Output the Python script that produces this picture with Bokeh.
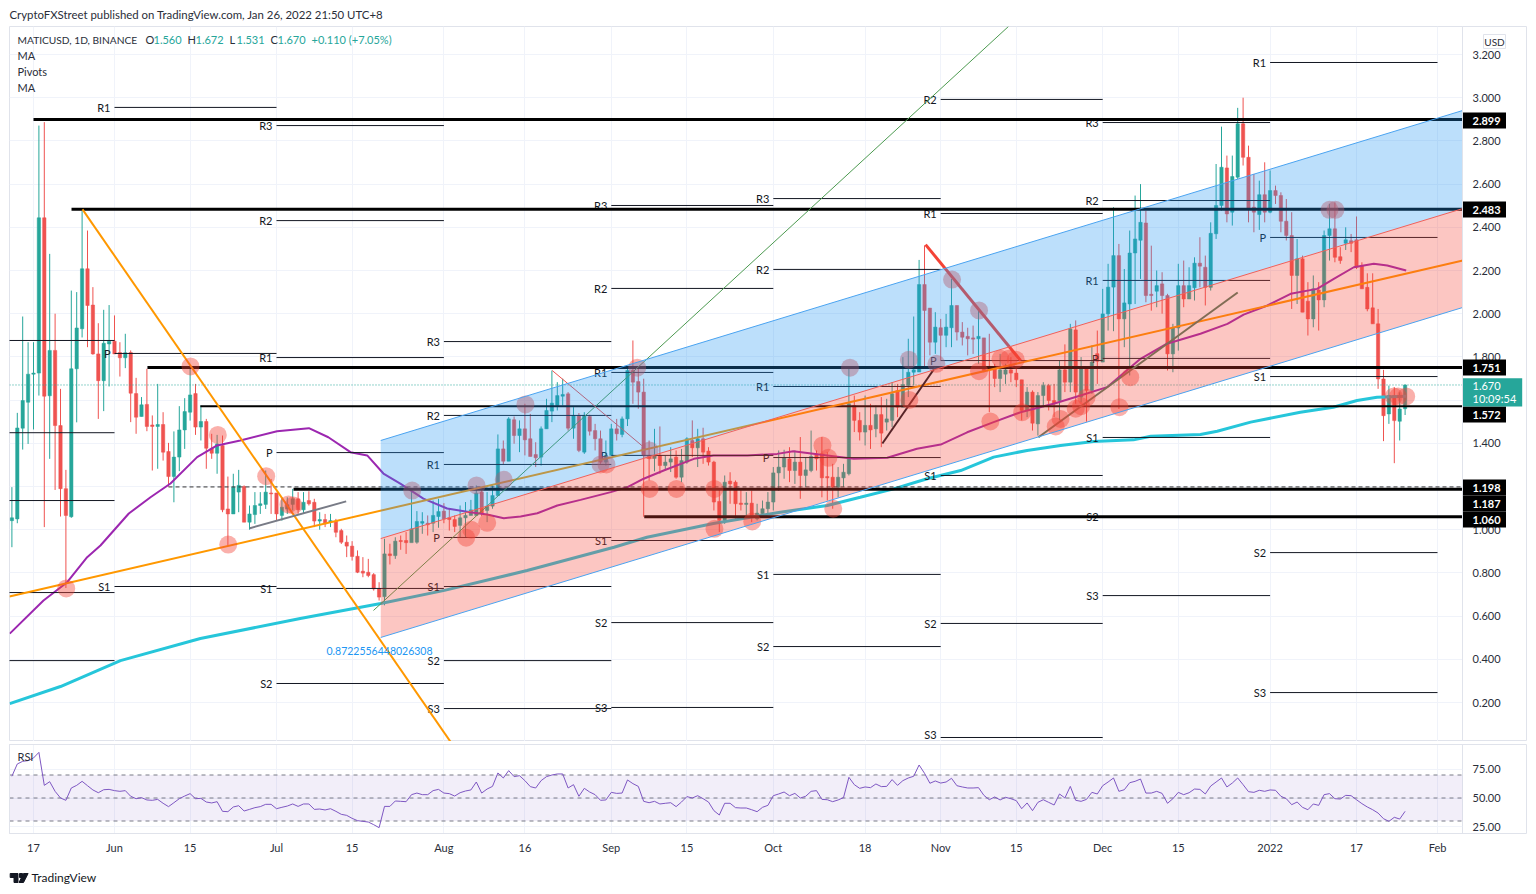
from bokeh.plotting import figure
from bokeh.layouts import column, row
from bokeh.core.properties import value
from bokeh.models import Range1d, FixedTicker, NumeralTickFormatter, Label
from bokeh.embed import file_html
from bokeh.resources import INLINE

FONT = "Lato"
TEXT = "#2a2e39"
GRID = "#f0f3fa"
EDGE = "#e0e3eb"
UP = "#26a69a"
DOWN = "#ef5350"

# ---- daily candles, May 13 2021 (day -4) to Jan 26 2022 (day 254); day 0 = May 17
opens = [1.042,1.05,1.47,1.59,1.72,1.725,2.444,1.62,1.83,1.482,
 1.19,1.06,1.745,1.93,2.208,2.04,1.814,1.69,1.86,1.873,
 1.82,1.796,1.82,1.63,1.524,1.58,1.485,1.478,1.487,1.362,
 1.246,1.336,1.462,1.544,1.63,1.475,1.501,1.377,1.354,1.39,
 1.096,1.073,1.174,1.2,1.035,1.07,1.112,1.117,1.17,1.17,
 1.066,1.096,1.117,1.143,1.092,1.135,1.127,1.04,1.047,1.035,
 1.04,.996,.942,.924,.877,.808,.803,.792,.726,.69,
 .888,.88,.95,.95,.94,.942,1.03,1.03,1.03,1.061,
 1.086,1.055,1.047,1.02,1.055,1.066,1.066,1.174,1.089,1.109,
 1.158,1.374,1.317,1.509,1.436,1.467,1.421,1.348,1.336,1.467,
 1.549,1.575,1.618,1.629,1.47,1.529,1.359,1.524,1.459,1.421,
 1.313,1.344,1.467,1.441,1.513,1.737,1.686,1.637,1.344,1.33,
 1.345,1.297,1.313,1.336,1.243,1.313,1.413,1.379,1.421,1.364,
 1.313,1.131,1.043,1.225,1.22,1.123,1.117,1.123,1.05,1.074,
 1.097,1.128,1.263,1.29,1.328,1.274,1.313,1.251,1.274,1.351,
 1.351,1.246,1.243,1.197,1.24,1.259,1.575,1.506,1.452,1.483,
 1.467,1.533,1.498,1.506,1.644,1.567,1.668,1.729,1.73,2.135,
 2.026,1.868,1.935,1.9,1.935,2.038,1.915,1.895,1.888,1.884,
 1.888,1.756,1.745,1.7,1.72,1.74,1.725,1.694,1.552,1.637,
 1.49,1.621,1.668,1.598,1.598,1.74,1.683,1.925,1.614,1.745,
 1.645,1.815,1.776,1.999,2.123,2.269,1.976,2.045,2.281,2.34,
 2.42,2.09,2.104,2.138,2.084,1.814,1.934,2.13,2.068,2.12,
 2.234,2.215,2.122,2.37,2.501,2.675,2.47,2.632,2.879,2.724,
 2.493,2.459,2.551,2.47,2.57,2.547,2.428,2.362,2.177,2.254,
 2.058,1.976,2.11,2.064,2.362,2.393,2.264,2.326,2.338,2.342,
 2.223,2.122,2.027,1.953,1.698,1.536,1.621,1.502,1.56]
highs = [1.197,1.541,1.987,1.868,1.868,2.871,2.887,2.277,2.0,1.652,
 1.277,2.107,2.1,2.475,2.385,2.123,1.956,2.018,2.04,1.992,
 1.868,1.907,1.83,1.703,1.614,1.745,1.529,1.675,1.544,1.402,
 1.455,1.572,1.609,1.745,1.675,1.575,1.513,1.444,1.439,1.436,
 1.246,1.259,1.277,1.205,1.112,1.174,1.174,1.274,1.235,1.17,
 1.15,1.15,1.189,1.174,1.174,1.178,1.143,1.081,1.073,1.073,
 1.05,1.004,.973,.947,.904,.873,.865,.799,.757,.958,
 .935,.965,.973,.989,1.19,1.086,1.081,1.066,1.135,1.143,
 1.123,1.097,1.066,1.112,1.128,1.138,1.205,1.185,1.174,1.205,
 1.441,1.413,1.521,1.524,1.506,1.583,1.536,1.405,1.478,1.606,
 1.737,1.683,1.699,1.637,1.567,1.54,1.544,1.532,1.49,1.459,
 1.413,1.49,1.513,1.524,1.745,1.876,1.745,1.699,1.413,1.467,
 1.478,1.344,1.382,1.367,1.374,1.428,1.506,1.467,1.472,1.382,
 1.319,1.189,1.251,1.266,1.228,1.189,1.174,1.181,1.12,1.135,
 1.174,1.29,1.367,1.37,1.382,1.367,1.429,1.336,1.459,1.367,
 1.429,1.359,1.305,1.29,1.305,1.745,1.621,1.544,1.621,1.583,
 1.575,1.614,1.606,1.683,1.675,1.799,1.884,1.987,2.249,2.316,
 2.026,2.007,1.976,1.999,2.161,2.038,1.961,1.935,1.945,2.015,
 1.888,1.907,1.768,1.814,1.768,1.799,1.745,1.694,1.66,1.645,
 1.637,1.683,1.675,1.675,1.784,1.858,1.953,1.969,1.799,1.75,
 1.853,1.922,2.115,2.231,2.493,2.323,2.207,2.385,2.547,2.6,
 2.477,2.315,2.2,2.192,2.092,1.953,2.231,2.246,2.215,2.261,
 2.354,2.269,2.423,2.693,2.866,2.732,2.732,2.953,3.0,2.778,
 2.647,2.616,2.701,2.663,2.593,2.562,2.531,2.47,2.346,2.269,
 2.146,2.177,2.146,2.385,2.508,2.516,2.308,2.4,2.369,2.45,
 2.238,2.187,2.187,2.022,1.74,1.667,1.66,1.636,1.672]
lows = [0.919,1.03,1.371,1.397,1.464,1.621,1.012,1.328,1.184,1.061,
 0.73,1.055,1.497,1.89,1.845,1.81,1.513,1.549,1.663,1.814,
 1.709,1.748,1.498,1.444,1.524,1.456,1.274,1.282,1.32,1.2,
 1.127,1.271,1.374,1.505,1.439,1.413,1.282,1.328,1.259,1.081,
 0.927,1.073,1.081,1.035,1.0,1.027,1.073,1.096,1.073,1.042,
 1.042,1.073,1.089,1.073,1.073,1.112,1.012,1.0,1.012,1.012,
 .965,.934,.873,.857,.799,.78,.78,.718,.672,.65,
 .839,.865,.907,.888,.942,.935,.981,.973,.989,1.009,
 1.03,.996,.989,.965,.965,1.066,1.066,1.063,1.035,1.097,
 1.158,1.302,1.317,1.398,1.359,1.344,1.339,1.29,1.297,1.467,
 1.498,1.552,1.575,1.459,1.421,1.359,1.351,1.436,1.367,1.305,
 1.297,1.344,1.413,1.428,1.48,1.583,1.56,1.06,1.228,1.27,
 1.259,1.274,1.267,1.236,1.22,1.305,1.336,1.29,1.305,1.297,
 1.089,.989,1.027,1.12,1.05,1.089,1.058,1.035,1.043,1.066,
 1.074,1.089,1.18,1.236,1.22,1.212,1.143,1.197,1.266,1.274,
 1.15,1.135,1.097,1.15,1.197,1.251,1.452,1.413,1.39,1.374,
 1.428,1.382,1.459,1.475,1.521,1.567,1.614,1.668,1.73,1.75,
 1.807,1.814,1.783,1.845,1.845,1.876,1.853,1.807,1.814,1.768,
 1.729,1.544,1.66,1.637,1.675,1.683,1.66,1.506,1.521,1.459,
 1.436,1.567,1.552,1.521,1.506,1.637,1.637,1.583,1.59,1.5,
 1.629,1.675,1.776,1.922,1.919,1.559,1.845,1.714,2.045,2.161,
 2.053,2.014,2.03,2.0,1.737,1.729,1.829,2.03,2.068,2.061,
 2.122,2.038,2.107,2.346,2.477,2.423,2.408,2.624,2.686,2.423,
 2.377,2.388,2.423,2.465,2.508,2.377,2.339,2.022,2.045,2.007,
 1.899,1.937,1.922,2.03,2.246,2.238,2.231,2.295,2.285,2.207,
 2.115,2.011,1.953,1.652,1.41,1.49,1.308,1.413,1.531]
closes = [1.055,1.471,1.598,1.72,1.725,2.444,1.618,1.83,1.482,1.19,
 1.066,1.745,1.934,2.208,2.038,1.814,1.69,1.863,1.873,1.814,
 1.796,1.819,1.632,1.521,1.578,1.478,1.478,1.487,1.359,1.246,
 1.336,1.462,1.547,1.624,1.475,1.501,1.377,1.354,1.397,1.092,
 1.073,1.197,1.205,1.035,1.073,1.112,1.12,1.174,1.166,1.073,
 1.104,1.116,1.143,1.092,1.127,1.12,1.04,1.047,1.027,1.042,
 .988,.942,.924,.876,.803,.799,.788,.726,.688,.888,
 .88,.947,.945,.94,1.004,1.038,1.038,1.023,1.066,1.084,
 1.05,1.047,1.015,1.055,1.066,1.092,1.169,1.074,1.109,1.158,
 1.374,1.317,1.513,1.436,1.467,1.416,1.339,1.333,1.467,1.552,
 1.586,1.621,1.626,1.47,1.529,1.367,1.529,1.456,1.421,1.313,
 1.344,1.467,1.444,1.513,1.737,1.683,1.637,1.344,1.33,1.345,
 1.297,1.313,1.328,1.243,1.32,1.421,1.379,1.421,1.359,1.313,
 1.128,1.043,1.22,1.212,1.12,1.117,1.123,1.058,1.077,1.097,
 1.128,1.263,1.29,1.333,1.274,1.313,1.251,1.277,1.339,1.328,
 1.24,1.24,1.197,1.243,1.266,1.583,1.506,1.452,1.483,1.462,
 1.533,1.447,1.513,1.629,1.567,1.672,1.729,1.74,2.135,2.015,
 1.868,1.938,1.9,1.938,2.038,1.915,1.891,1.884,1.882,1.895,
 1.737,1.745,1.7,1.74,1.74,1.725,1.694,1.552,1.637,1.493,
 1.621,1.668,1.598,1.583,1.74,1.683,1.93,1.637,1.745,1.645,
 1.776,1.78,1.999,2.123,2.269,1.976,2.05,2.281,2.346,2.423,
 2.084,2.084,2.13,2.084,1.814,1.934,2.13,2.068,2.13,2.234,
 2.22,2.122,2.372,2.501,2.678,2.462,2.635,2.879,2.724,2.485,
 2.47,2.551,2.47,2.57,2.547,2.428,2.362,2.177,2.254,2.007,
 1.976,2.115,2.064,2.362,2.393,2.261,2.246,2.342,2.326,2.215,
 2.115,2.022,1.953,1.698,1.528,1.621,1.505,1.559,1.67]

# ---- RSI(14), same days
rsi = [68.9,79.6,81.9,82.5,84.8,
 89.7,61,64.2,55.8,50,48,58.7,61,64.5,60.7,
 57,54.6,57.2,57.5,56.4,55.8,56.4,51.5,49.4,50.3,
 48.3,48,48.8,45.4,42.5,45.9,49.4,51.7,53.8,49.4,
 49.7,46.5,45.7,46.8,38.4,38.1,42.2,43.3,38.7,40.1,
 41.6,42.5,44.5,44.5,40.7,41.9,43,44.8,42.7,44.8,
 44.8,40.1,40.4,39.6,40.7,38.4,35.8,34.9,32.3,30.3,
 29.7,29.1,26.8,24.2,42.7,42.7,47.4,47.1,46.8,52.9,
 54.3,52.9,52.9,56.4,57.5,54.3,53.8,51.7,54.6,56.1,
 57,63.9,54.3,57.8,60.1,71.8,67.4,73.8,68.6,69.4,
 65.1,59.9,58.7,65.1,68.6,70,70.9,70.9,58.7,61.6,
 51.5,58.4,55.2,52.9,48,48.3,54.9,54,54.3,65.7,
 62.5,60.1,47.1,45.9,47.1,44.8,45.4,45.9,42.5,46.5,
 51.2,50,52,49.4,46.5,39,35.2,45.4,45.4,41.6,
 41.3,41.3,39.8,38.1,
 41.9,43.6,52,53.5,55.2,52,54,50,51.5,55.8,
 56.4,48.8,48.5,46.8,48.3,50.3,68,61.6,58.4,59.6,
 59,62.2,59.9,60.1,66,61,65.1,67.4,68.9,78.7,
 71.5,62.8,64.8,63,63.9,67.1,60.7,59.6,58.7,58.7,
 59,52.3,48.5,50.9,48.3,50.6,49.4,47.7,40.7,45.7,
 39,46.2,48.5,46.2,43.9,53.5,50,60.1,48,47.1,
 48.8,54.9,53.5,60.7,63.9,67.4,55.8,57.2,63.3,64.5,
 66.5,54.3,54.3,55.8,54,45.4,49.4,54.9,52.9,54.6,
 57.8,57.5,53.5,60.4,63.9,67.4,59.6,63,67.4,61.6,
 55.5,54.9,56.7,55.8,57,56.7,51.5,49.4,44.2,46.5,
 41.9,39.8,44.8,43.6,52.9,53.8,49.4,49.1,52.3,52,
 48.5,45.1,42.2,39.8,36.9,32,29.7,33.2,31.7,38.4]

# ---- moving averages (day, price)
ma50_day = [-4.4,1.85,6.24,9.94,12.4,17.65,21.67,25.37,30.3,34,38.3,45.1,51,54.6,58.7,61.8,64.8,68,72.2,76.6,80.9,84,87.1,90.2,93.3,97,101.3,106.9,110,113,116.7,122.3,125.9,132.2,137.7,140.7,147,151.9,158.1,163.6,168,172.9,177.8,182.8,188.9,193.9,198.8,205,209.9,216.1,221.1,224.1,228.5,232.8,237.7,240.8,244.5,248.2,250.7,254.2]
ma50_val = [.519,.672,.757,.873,.927,1.075,1.15,1.214,1.336,1.39,1.413,1.456,1.47,1.428,1.359,1.344,1.26,1.212,1.144,1.098,1.081,1.07,1.053,1.061,1.076,1.112,1.138,1.174,1.197,1.236,1.274,1.328,1.344,1.344,1.351,1.363,1.344,1.328,1.333,1.375,1.394,1.451,1.498,1.544,1.583,1.621,1.66,1.791,1.861,1.907,1.953,1.996,2.038,2.092,2.115,2.161,2.215,2.231,2.223,2.2]
ma200_day = [-4.4,5,16.1,30.9,49.4,64.3,76.1,91.4,107.5,113.6,125.9,138.3,147,153.1,159.3,165.5,171.7,177.8,184,190.2,196.3,203.7,206.9,216.1,219.2,225.4,234.6,240.7,245.1,248.8,254.2]
ma200_val = [.195,.274,.394,.496,.589,.658,.719,.811,.919,.965,1.029,1.081,1.112,1.15,1.189,1.236,1.274,1.336,1.367,1.39,1.408,1.416,1.433,1.441,1.456,1.498,1.544,1.567,1.598,1.613,1.618]

# ---- monthly pivots: label, first day, last day, price
pivot_label = ["","","","","",
 "R1","P","S1",
 "R3","R2","R1","P","S1","S2",
 "R3","R2","R1","P","S1","S2","S3",
 "R3","R2","R1","P","S1","S2","S3",
 "R3","R2","R1","P","S1","S2",
 "R2","R1","P","S1","S2","S3",
 "R3","R2","R1","P","S1","S2","S3",
 "R1","P","S1","S2","S3"]
pivot_from = [-5]*5 + [15]*3 + [45]*6 + [76]*7 + [107]*7 + [137]*6 + [168]*6 + [198]*7 + [229]*5
pivot_to = [15]*5 + [45]*3 + [76]*6 + [107]*7 + [137]*7 + [168]*6 + [198]*6 + [229]*7 + [260]*5
pivot_price = [1.876,1.449,1.135,.709,.394,
 2.955,1.816,.737,
 2.871,2.431,1.797,1.357,.728,.288,
 1.871,1.529,1.302,.964,.737,.394,.172,
 2.501,2.117,1.728,1.344,.95,.57,.177,
 2.533,2.205,1.663,1.334,.793,.459,
 2.992,2.464,1.783,1.251,.566,.038,
 2.885,2.524,2.154,1.793,1.427,1.061,.695,
 3.163,2.353,1.709,.894,.246]

# ---- horizontal levels
level_price = [2.899,2.483,1.751,1.572,1.187,1.06]
level_start = [0,7.04,21.1,30.9,48.15,113.1]
level_width = [3,3,3,2,3,3]
dashed_level = 1.198
dashed_start = 25
last_close = 1.67

# ---- channel (day, price)
channel_day = [64.3,264.7]
channel_top = [1.413,2.941]
channel_mid = [.959,2.487]
channel_low = [.501,2.029]

# ---- drawn trend lines
orange_long_day, orange_long_val = [-4.45,264.7],[.691,2.246]
orange_down_day, orange_down_val = [9.07,77.2],[2.483,.019]
green_long_day, green_long_val = [62.96,180.56],[.626,3.33]
gray_day, gray_val = [40.06,57.9],[1.007,1.131]
pink_day, pink_val = [96.06,113.3],[1.737,1.376]
black_day, black_val = [157.2,167],[1.399,1.752]
red_day, red_val = [165.2,182.8],[2.32,1.783]
dkgreen_day, dkgreen_val = [186.1,223],[1.428,2.098]

# ---- touch markers
circle_day = [6.06,29.07,34.13,36.06,43.09,47.2,48.15,70.13,82.04,87.09,91.1,84.02,81.06,80.13,106.1,105,111.8,114.1,114.1,119.07,126.1,126.1,133.1,151.2,146.1,147.2,148.1,162.1,162.2,167.2,170.1,175.1,175.1,177.2,179.07,180.6,181.9,183.1,189.3,190.2,193,194,195,201.1,203.1,240,241.1,251.9,252.7,254.2]
circle_val = [.728,1.756,1.439,.931,1.248,1.117,1.112,1.181,1.205,1.231,1.58,1.032,1.0,.963,1.302,1.302,1.75,1.367,1.189,1.189,1.189,1.004,1.038,1.75,1.39,1.333,1.097,1.787,1.601,1.768,2.158,2.015,1.734,1.501,1.791,1.791,1.787,1.544,1.478,1.513,1.56,1.572,1.611,1.567,1.706,2.481,2.481,1.617,1.617,1.617]

# ---- axes
date_ticks = [0,15,29,45,59,76,91,107,121,137,154,168,182,198,212,229,245,260]
date_labels = ["17","Jun","15","Jul","15","Aug","16","Sep","15","Oct","18","Nov","15","Dec","15","2022","17","Feb"]
price_ticks = [.2,.4,.6,.8,1.0,1.2,1.4,1.6,1.8,2.0,2.2,2.4,2.6,2.8,3.0,3.2]
rsi_ticks = [25,50,75]
rsi_bands = [70,50,30]

# ---- price tags on the axis: text and the pane pixel row of their centre
tag_text = ["2.899","2.483","1.751","1.572","1.198","1.187","1.060"]
tag_row = [120,209,367,414,487,503,519]


def day_at(px):
    return (px - 33) / 5.4


def price_at(py):
    return (702 - py) / 216 + 0.2


def rsi_at(py):
    return 50 + (797.5 - py) / 1.15


def overlay(w, h, xr, yr, left, right, top=0, bottom=0):
    f = figure(width=w, height=h, output_backend="svg", toolbar_location=None, x_range=xr, y_range=yr,
               x_axis_location=None, y_axis_location=None, min_border_left=left, min_border_right=right,
               min_border_top=top, min_border_bottom=bottom, outline_line_color=None,
               background_fill_alpha=0, border_fill_alpha=0)
    f.grid.visible = False
    return f


def style_axis(a):
    a.axis_line_color = None
    a.major_tick_line_color = None
    a.minor_tick_line_color = None
    a.major_tick_out = 0
    a.major_tick_in = 0
    a.minor_tick_out = 0
    a.minor_tick_in = 0
    a.major_label_text_font = FONT
    a.major_label_text_font_size = "11px"
    a.major_label_text_color = TEXT


days = list(range(-4, -4 + len(closes)))
x_range = Range1d(day_at(9), day_at(1462))

# ---- header strip
head = overlay(1536, 26, Range1d(0, 1536), Range1d(26, 0), 0, 0)
head.text([9], [14], text=["CryptoFXStreet published on TradingView.com, Jan 26, 2022 21:50 UTC+8"],
          text_baseline="middle", text_font=value(FONT), text_font_size="11.4px", text_color=TEXT)

# ---- main pane
p = figure(width=1528, height=715, output_backend="svg", toolbar_location=None,
           x_range=x_range, y_range=Range1d(price_at(741), price_at(26)),
           y_axis_location="right", min_border_left=9, min_border_right=66,
           min_border_top=0, min_border_bottom=0, background_fill_color="white",
           outline_line_color=EDGE)
p.xaxis.visible = False
p.xgrid.ticker = FixedTicker(ticks=date_ticks)
p.ygrid.ticker = FixedTicker(ticks=price_ticks)
p.xgrid.grid_line_color = GRID
p.ygrid.grid_line_color = GRID
ax = p.yaxis[0]
ax.ticker = FixedTicker(ticks=price_ticks)
ax.formatter = NumeralTickFormatter(format="0.000")
style_axis(ax)
ax.major_label_standoff = 10

# candles
colors = [UP if c >= o else DOWN for o, c in zip(opens, closes)]
p.segment(days, highs, days, lows, color=colors, line_width=1)
p.vbar(days, 0.62, opens, closes, fill_color=colors, line_color=colors, line_width=0.5)

# moving averages
p.line(ma200_day, ma200_val, line_color="#26c6da", line_width=3)
p.line(ma50_day, ma50_val, line_color="#9c27b0", line_width=2)

# last price
p.line([day_at(9), day_at(1462)], [last_close, last_close], line_color=UP, line_width=1, line_dash=[1, 2])

# pivots
p.segment(pivot_from, pivot_price, pivot_to, pivot_price, line_color="#131722", line_width=1)
lab_idx = [i for i, t in enumerate(pivot_label) if t]
p.text([pivot_from[i] for i in lab_idx], [pivot_price[i] for i in lab_idx],
       text=[pivot_label[i] for i in lab_idx], x_offset=-4,
       y_offset=[-3 if pivot_price[i] < 0.05 else 0 for i in lab_idx], text_align="right",
       text_baseline="middle", text_font=value(FONT), text_font_size="11px", text_color="#131722")

# levels
for lv, st, wd in zip(level_price, level_start, level_width):
    p.line([st, day_at(1462)], [lv, lv], line_color="black", line_width=wd)
p.line([dashed_start, day_at(1462)], [dashed_level, dashed_level], line_color="#333333",
       line_width=1, line_dash=[4, 3])

# trend lines
p.line(orange_long_day, orange_long_val, line_color="#ff9800", line_width=2)
p.line(orange_down_day, orange_down_val, line_color="#ff9800", line_width=2)
p.line(green_long_day, green_long_val, line_color="#4c9a50", line_width=1)
p.line(gray_day, gray_val, line_color="#787b86", line_width=2)
p.line(pink_day, pink_val, line_color="#ef5350", line_width=1)
p.line(black_day, black_val, line_color="#131722", line_width=2)
p.line(red_day, red_val, line_color="#f44336", line_width=3)
p.line(dkgreen_day, dkgreen_val, line_color="#4f7f62", line_width=2)

# touch markers
p.scatter(circle_day, circle_val, size=18, fill_color="#f44336", fill_alpha=0.42, line_color=None)

# channel
p.varea(channel_day, channel_mid, channel_top, fill_color="#2196f3", fill_alpha=0.3)
p.varea(channel_day, channel_low, channel_mid, fill_color="#f44336", fill_alpha=0.3)
p.line(channel_day, channel_top, line_color="#4aa3f0", line_width=1)
p.line(channel_day, channel_mid, line_color="#f0605a", line_width=1)
p.line(channel_day, channel_low, line_color="#4aa3f0", line_width=1)

p.text([day_at(326)], [price_at(650)], text=["0.8722556448026308"], text_baseline="middle",
       text_font=value(FONT), text_font_size="10.5px", text_color="#2196f3")


def note(fig, text, px, yval, color=TEXT, size=11):
    fig.add_layout(Label(x=day_at(px), y=yval, text=text, text_color=color, text_font=FONT,
                         text_font_size=f"{size}px", text_baseline="middle"))


note(p, "MATICUSD, 1D, BINANCE", 17, price_at(39), size=10.2)
for px, t, c in [(145, "O", TEXT), (153, "1.560", UP), (187, "H", TEXT), (195, "1.672", UP),
                 (229, "L", TEXT), (236, "1.531", UP), (270, "C", TEXT), (277, "1.670", UP),
                 (311, "+0.110 (+7.05%)", UP)]:
    note(p, t, px, price_at(39), color=c)
note(p, "MA", 17, price_at(55))
note(p, "Pivots", 17, price_at(71))
note(p, "MA", 17, price_at(87))

# ---- price-axis overlay: same rows as the main pane, columns in page pixels
tags = overlay(66, 715, Range1d(1462, 1526), p.y_range, 0, 2)
tags.margin = (0, 0, 0, -66)
tags.outline_line_color = EDGE
tags.quad([1462.5] * len(tag_text), [1505.5] * len(tag_text),
          [price_at(r_ - 8) for r_ in tag_row], [price_at(r_ + 8) for r_ in tag_row],
          fill_color="black", line_color=None)
tags.text([1472] * len(tag_text), [price_at(r_) for r_ in tag_row], text=tag_text, text_color="white",
          text_baseline="middle", text_font=value(FONT), text_font_size="11px", text_font_style="bold")
tags.quad([1462.5], [1521.7], [price_at(377.7)], [price_at(406)], fill_color=UP, line_color=None)
tags.text([1472, 1472], [price_at(385), price_at(398)], text=["1.670", "10:09:54"], text_color="white",
          text_baseline="middle", text_font=value(FONT), text_font_size="11px")
tags.quad([1483], [1505], [price_at(34)], [price_at(48)], fill_color="white", line_color=EDGE)
tags.text([1494], [price_at(41)], text=["USD"], text_color=TEXT, text_align="center",
          text_baseline="middle", text_font=value(FONT), text_font_size="10px")

# ---- RSI pane
r = figure(width=1528, height=119, output_backend="svg", toolbar_location=None,
           x_range=x_range, y_range=Range1d(rsi_at(833), rsi_at(744)),
           y_axis_location="right", min_border_left=9, min_border_right=66,
           min_border_top=3, min_border_bottom=27, outline_line_color=EDGE)
rx = r.xaxis[0]
rx.ticker = FixedTicker(ticks=date_ticks)
rx.major_label_overrides = dict(zip(date_ticks, date_labels))
style_axis(rx)
rx.major_label_standoff = 7
ry = r.yaxis[0]
ry.ticker = FixedTicker(ticks=rsi_ticks)
ry.formatter = NumeralTickFormatter(format="0.00")
style_axis(ry)
ry.major_label_standoff = 10
r.xgrid.ticker = FixedTicker(ticks=date_ticks)
r.ygrid.ticker = FixedTicker(ticks=rsi_ticks)
r.xgrid.grid_line_color = GRID
r.ygrid.grid_line_color = GRID
r.varea([day_at(9), day_at(1462)], [rsi_bands[2]] * 2, [rsi_bands[0]] * 2, fill_color="#7e57c2", fill_alpha=0.1)
for band in rsi_bands:
    r.line([day_at(9), day_at(1462)], [band, band], line_color="#787b86", line_width=1, line_dash=[4, 4])
r.line(days, rsi, line_color="#7e57c2", line_width=1)
note(r, "RSI", 17, rsi_at(756))

# outer frame of the RSI and time-axis block
box = overlay(1528, 119, Range1d(0, 1), Range1d(0, 1), 9, 2)
box.margin = (0, 0, 0, -1528)
box.outline_line_color = EDGE

# ---- footer strip
foot = overlay(1536, 30, Range1d(0, 1536), Range1d(890, 860), 0, 0)
foot.patches([[9.7, 17.5, 17.5, 13.5, 13.5, 9.7], [19, 22, 22, 19], [23, 27.6, 23, 18.5]],
             [[873, 873, 882, 882, 877, 877], [873, 873, 877, 877], [873, 873, 882, 882]],
             fill_color="#131722", line_color="#131722")
foot.text([31], [877], text=["TradingView"], text_baseline="middle", text_font=value(FONT),
          text_font_size="12px", text_color="#131722")

page = column(head, row(p, tags, spacing=0), row(r, box, spacing=0), foot, spacing=0)
open("out.html", "w").write(file_html(page, INLINE))
